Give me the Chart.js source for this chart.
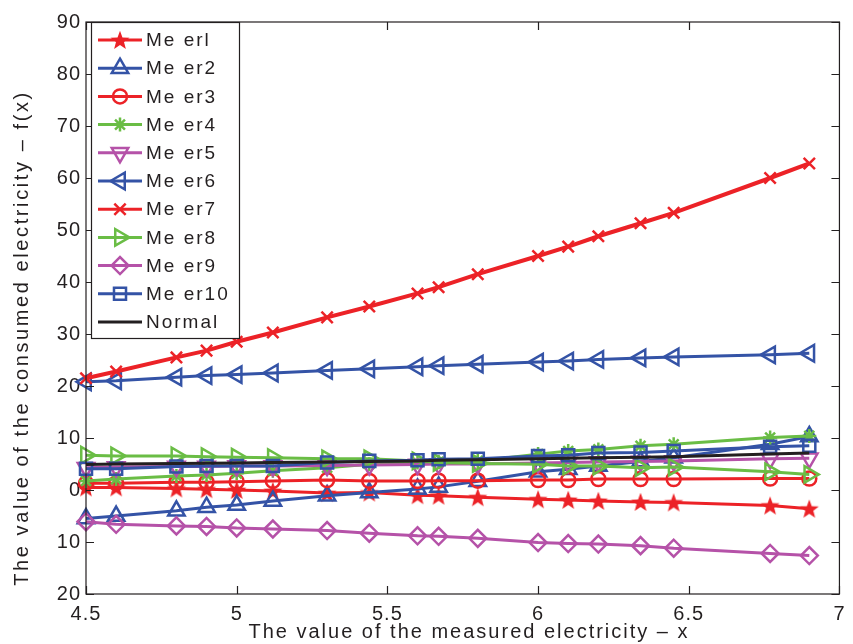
<!DOCTYPE html>
<html>
<head>
<meta charset="utf-8">
<script src="https://cdn.jsdelivr.net/npm/chart.js@4"></script>
<style>
  html, body { margin: 0; padding: 0; background: #fff; }
  #wrap { width: 853px; height: 644px; }
</style>
</head>
<body>
<div id="wrap"><canvas id="myChart" width="853" height="644"></canvas></div>
<script>
// measured electricity (x) where every meter was sampled
const xValues = [4.5, 4.6, 4.8, 4.9, 5.0, 5.12, 5.3, 5.44, 5.6, 5.67, 5.8, 6.0, 6.1, 6.2, 6.34, 6.45, 6.77, 6.9];

const meter1 = [0.5, 0.5, 0.3, 0.15, 0, -0.2, -0.6, -0.5, -1.0, -1.1, -1.4, -1.8, -1.9, -2.1, -2.3, -2.4, -3.0, -3.6];
const meter2 = [-5.5, -5.0, -4.0, -3.3, -2.9, -2.1, -1.1, -0.5, 0.2, 0.6, 1.7, 3.5, 4.0, 4.6, 5.5, 6.2, 8.8, 10.3];
const meter3 = [1.3, 1.3, 1.5, 1.5, 1.6, 1.75, 1.9, 1.75, 1.75, 1.8, 1.8, 1.9, 1.9, 2.1, 2.1, 2.1, 2.2, 2.2];
const meter4 = [1.75, 2.1, 2.7, 2.9, 3.2, 3.7, 4.3, 4.95, 5.3, 5.4, 5.6, 6.9, 7.5, 7.8, 8.5, 8.8, 10.1, 10.4];
const meter5 = [4.3, 4.4, 4.5, 4.5, 4.6, 4.6, 4.7, 4.8, 4.9, 5.0, 5.0, 5.2, 5.3, 5.4, 5.5, 5.6, 6.0, 6.1];
const meter6 = [20.8, 21.0, 21.7, 22.0, 22.2, 22.5, 23.0, 23.3, 23.7, 23.9, 24.2, 24.6, 24.8, 25.1, 25.4, 25.6, 26.0, 26.3];
const meter7 = [21.5, 22.8, 25.5, 26.8, 28.5, 30.3, 33.2, 35.3, 37.8, 39.0, 41.5, 45.0, 46.8, 48.8, 51.3, 53.3, 60.0, 62.8];
const meter8 = [6.7, 6.55, 6.55, 6.4, 6.3, 6.2, 6.0, 6.0, 5.6, 5.3, 5.1, 4.95, 4.6, 4.6, 4.3, 4.4, 3.5, 3.0];
const meter9 = [-6.1, -6.6, -6.9, -7.0, -7.3, -7.5, -7.8, -8.3, -8.8, -8.9, -9.3, -10.1, -10.3, -10.4, -10.7, -11.2, -12.2, -12.6];
const meter10 = [4.1, 4.1, 4.5, 4.6, 4.6, 4.6, 5.3, 5.6, 5.7, 5.9, 6.0, 6.55, 6.7, 7.1, 7.2, 7.5, 8.3, 8.5];
const normal = [4.9, 5.0, 5.1, 5.15, 5.2, 5.3, 5.4, 5.5, 5.6, 5.7, 5.8, 6.0, 6.1, 6.2, 6.3, 6.4, 6.9, 7.1];

const seriesNames = ['Me erl', 'Me er2', 'Me er3', 'Me er4', 'Me er5', 'Me er6', 'Me er7', 'Me er8', 'Me er9', 'Me er10', 'Normal'];
const xTickLabels = ['4.5', '5', '5.5', '6', '6.5', '7'];
const yTickLabels = ['20', '10', '0', '10', '20', '30', '40', '50', '60', '70', '80', '90'];
const xTitle = 'The value of the measured electricity – x';
const yTitle = 'The value of the consumed electricity – f(x)';

const RED = '#ec2227';
const BLUE = '#3453a6';
const GREEN = '#6abd45';
const MAGENTA = '#b552a8';
const BLACK = '#231f20';
const FONT = '"Liberation Sans", Arial, sans-serif';

// filled five point star marker for meter 1
function makeStar(color) {
  const c = document.createElement('canvas');
  c.width = 22; c.height = 22;
  const g = c.getContext('2d');
  g.beginPath();
  for (let i = 0; i < 10; i++) {
    const r = i % 2 === 0 ? 10 : 4.2;
    const a = -Math.PI / 2 + i * Math.PI / 5;
    const px = 11 + r * Math.cos(a), py = 11.8 + r * Math.sin(a);
    if (i === 0) g.moveTo(px, py); else g.lineTo(px, py);
  }
  g.closePath();
  g.fillStyle = color;
  g.fill();
  return c;
}

const styles = [
  { color: RED, pointStyle: makeStar(RED), rotation: 0, radius: 9, width: 3 },
  { color: BLUE, pointStyle: 'triangle', rotation: 0, radius: 9.5, width: 3 },
  { color: RED, pointStyle: 'circle', rotation: 0, radius: 7, width: 3 },
  { color: GREEN, pointStyle: 'star', rotation: 0, radius: 7, width: 3 },
  { color: MAGENTA, pointStyle: 'triangle', rotation: 180, radius: 9.5, width: 3 },
  { color: BLUE, pointStyle: 'triangle', rotation: 270, radius: 9.5, width: 3 },
  { color: RED, pointStyle: 'crossRot', rotation: 0, radius: 8, width: 4 },
  { color: GREEN, pointStyle: 'triangle', rotation: 90, radius: 9.5, width: 3 },
  { color: MAGENTA, pointStyle: 'rectRot', rotation: 0, radius: 8.5, width: 3 },
  { color: BLUE, pointStyle: 'rect', rotation: 0, radius: 8.5, width: 3 },
  { color: BLACK, pointStyle: false, rotation: 0, radius: 0, width: 3 }
];

const allSeries = [meter1, meter2, meter3, meter4, meter5, meter6, meter7, meter8, meter9, meter10, normal];

const datasets = allSeries.map((vals, i) => ({
  label: seriesNames[i],
  data: vals.map((v, j) => ({ x: xValues[j], y: v })),
  borderColor: styles[i].color,
  borderWidth: styles[i].width,
  pointStyle: styles[i].pointStyle,
  rotation: styles[i].rotation,
  pointRadius: styles[i].radius,
  pointBorderWidth: 2.5,
  pointBorderColor: styles[i].color,
  pointBackgroundColor: 'rgba(0,0,0,0)',
  tension: 0,
  clip: false,
  order: 20 - i
}));

// wider letter spacing like the original figure text
const spacingPlugin = {
  id: 'spacing',
  beforeDraw(chart) {
    chart.ctx.letterSpacing = '1px';
  }
};

// box around the plot with inward tick marks, axis titles
const framePlugin = {
  id: 'frame',
  afterDraw(chart) {
    const { ctx, chartArea: a, scales } = chart;
    ctx.save();
    ctx.strokeStyle = BLACK;
    ctx.lineWidth = 1.2;
    ctx.strokeRect(a.left, a.top, a.right - a.left, a.bottom - a.top);
    ctx.beginPath();
    scales.x.ticks.forEach(t => {
      const px = Math.round(scales.x.getPixelForValue(t.value)) + 0.5;
      ctx.moveTo(px, a.bottom); ctx.lineTo(px, a.bottom - 8);
      ctx.moveTo(px, a.top); ctx.lineTo(px, a.top + 8);
    });
    scales.y.ticks.forEach(t => {
      const py = Math.round(scales.y.getPixelForValue(t.value)) + 0.5;
      ctx.moveTo(a.left, py); ctx.lineTo(a.left + 8, py);
      ctx.moveTo(a.right, py); ctx.lineTo(a.right - 8, py);
    });
    ctx.stroke();

    ctx.fillStyle = BLACK;
    ctx.font = '20px ' + FONT;
    ctx.letterSpacing = '2px';
    ctx.textAlign = 'center';
    ctx.textBaseline = 'middle';
    ctx.fillText(xTitle, 469, 632);
    ctx.letterSpacing = '2.6px';
    ctx.translate(22, 338);
    ctx.rotate(-Math.PI / 2);
    ctx.fillText(yTitle, 0, 0);
    ctx.restore();
  }
};

// legend drawn inside the plot, top left
const legendPlugin = {
  id: 'insideLegend',
  afterDraw(chart) {
    const ctx = chart.ctx;
    const bx = 91, by = 22, bw = 148, bh = 316;
    ctx.save();
    ctx.fillStyle = '#fff';
    ctx.fillRect(bx, by, bw, bh);
    ctx.strokeStyle = BLACK;
    ctx.lineWidth = 1.2;
    ctx.strokeRect(bx + 0.5, by + 0.5, bw, bh);
    ctx.font = '19px ' + FONT;
    ctx.letterSpacing = '2px';
    ctx.textBaseline = 'middle';
    chart.data.datasets.forEach((ds, i) => {
      const cy = 40 + i * 28.2;
      ctx.strokeStyle = ds.borderColor;
      ctx.lineWidth = 3;
      ctx.beginPath();
      ctx.moveTo(98, cy); ctx.lineTo(142, cy);
      ctx.stroke();
      if (ds.pointStyle) {
        ctx.lineWidth = 2.5;
        ctx.strokeStyle = ds.borderColor;
        ctx.fillStyle = 'rgba(0,0,0,0)';
        Chart.helpers.drawPoint(ctx, {
          pointStyle: ds.pointStyle,
          rotation: ds.rotation,
          radius: ds.pointRadius,
          borderWidth: 2.5
        }, 120, cy);
      }
      ctx.fillStyle = BLACK;
      ctx.fillText(ds.label, 146, cy + 1);
    });
    ctx.restore();
  }
};

const tickFont = { family: FONT, size: 20 };

new Chart(document.getElementById('myChart'), {
  type: 'line',
  data: { datasets },
  plugins: [spacingPlugin, framePlugin, legendPlugin],
  options: {
    responsive: false,
    animation: false,
    layout: { padding: { top: 22, right: 4, left: 0, bottom: 0 } },
    plugins: { legend: { display: false }, tooltip: { enabled: false } },
    scales: {
      x: {
        type: 'linear',
        min: 4.5, max: 7,
        afterFit: s => { s.height = 50; },
        grid: { display: false, drawTicks: false },
        border: { display: false },
        ticks: {
          stepSize: 0.5,
          padding: 8,
          color: BLACK,
          font: tickFont,
          maxRotation: 0,
          callback: (v, i) => xTickLabels[i]
        }
      },
      y: {
        min: -20, max: 90,
        afterFit: s => { s.width = 86; },
        grid: { display: false, drawTicks: false },
        border: { display: false },
        ticks: {
          stepSize: 10,
          padding: 5,
          color: BLACK,
          font: tickFont,
          callback: (v, i) => yTickLabels[i]
        }
      }
    }
  }
});
</script>
</body>
</html>
